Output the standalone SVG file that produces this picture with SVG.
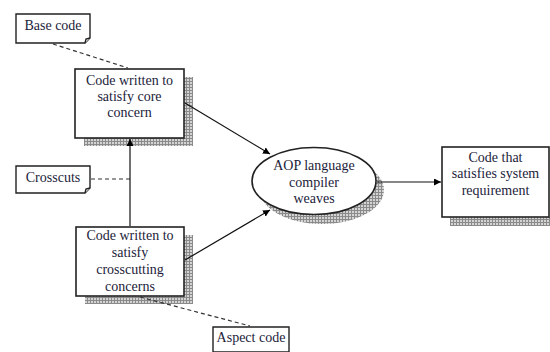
<svg xmlns="http://www.w3.org/2000/svg" width="550" height="352" viewBox="0 0 550 352">
<style>
text{font-family:"Liberation Serif","DejaVu Serif",serif;font-size:14px;fill:#1c1c3a;text-anchor:middle}
.box{fill:#fff;stroke:#222;stroke-width:1.6}
.note{fill:#fff;stroke:#222;stroke-width:1.4}
.shadow{fill:url(#hatch);stroke:none}
.conn{stroke:#111;stroke-width:1.2;fill:none}
.dash{stroke:#333;stroke-width:1.2;fill:none;stroke-dasharray:4,3}
</style>
<defs>
<pattern id="hatch" width="3" height="3" patternUnits="userSpaceOnUse">
<rect width="3" height="3" fill="#d4d4d4"/>
<path d="M0,0.5H3M0.5,0V3" stroke="#8a8a8a" stroke-width="1"/>
</pattern>
<marker id="arr" viewBox="0 0 10 10" refX="10" refY="5" markerWidth="7" markerHeight="7" orient="auto" markerUnits="userSpaceOnUse">
<path d="M0,0L10,5L0,10Z" fill="#000"/>
</marker>
</defs>
<g id="base-code">
<path class="note" d="M16,14H90V38L85,43H16Z"/>
<path class="note" d="M85,43L86,39L90,38" fill="none"/>
<text x="53" y="30">Base code</text>
</g>
<g id="crosscuts">
<path class="note" d="M16,166H90V188L85,193H16Z"/>
<path class="note" d="M85,193L86,189L90,188" fill="none"/>
<text x="53" y="182">Crosscuts</text>
</g>
<g id="aspect-code">
<path class="note" d="M213,327H289V352H213Z"/>
<text x="251" y="342">Aspect code</text>
</g>
<g id="core-concern">
<rect class="shadow" x="84" y="77" width="109" height="69"/>
<rect class="box" x="75" y="69" width="109" height="69"/>
<text x="129.5" y="85">Code written to</text>
<text x="129.5" y="101">satisfy core</text>
<text x="129.5" y="117">concern</text>
</g>
<g id="crosscutting-concerns">
<rect class="shadow" x="85" y="235" width="108" height="69"/>
<rect class="box" x="76" y="227" width="108" height="69"/>
<text x="130" y="240">Code written to</text>
<text x="130" y="257">satisfy</text>
<text x="130" y="274">crosscutting</text>
<text x="130" y="291">concerns</text>
</g>
<g id="compiler">
<ellipse class="shadow" cx="322" cy="190" rx="62" ry="34"/>
<ellipse class="box" cx="314" cy="181" rx="62" ry="33.5"/>
<text x="314" y="170">AOP language</text>
<text x="314" y="187">compiler</text>
<text x="314" y="203">weaves</text>
</g>
<g id="system-requirement">
<rect class="shadow" x="450" y="217" width="100" height="9"/>
<rect class="box" x="442" y="147" width="107" height="70"/>
<text x="495.5" y="162">Code that</text>
<text x="495.5" y="178">satisfies system</text>
<text x="495.5" y="195">requirement</text>
</g>
<g id="connectors">
<line class="dash" x1="53" y1="44" x2="128" y2="68"/>
<line class="dash" x1="91" y1="179" x2="130" y2="179"/>
<line class="dash" x1="140" y1="297" x2="250" y2="326"/>
<line class="conn" x1="130" y1="226" x2="130" y2="139" stroke="#555" marker-end="url(#arr)"/>
<line class="conn" x1="185" y1="103" x2="270" y2="154" marker-end="url(#arr)"/>
<line class="conn" x1="185" y1="260" x2="270" y2="210" marker-end="url(#arr)"/>
<line class="conn" x1="377" y1="182" x2="441" y2="182" marker-end="url(#arr)"/>
</g>
</svg>
